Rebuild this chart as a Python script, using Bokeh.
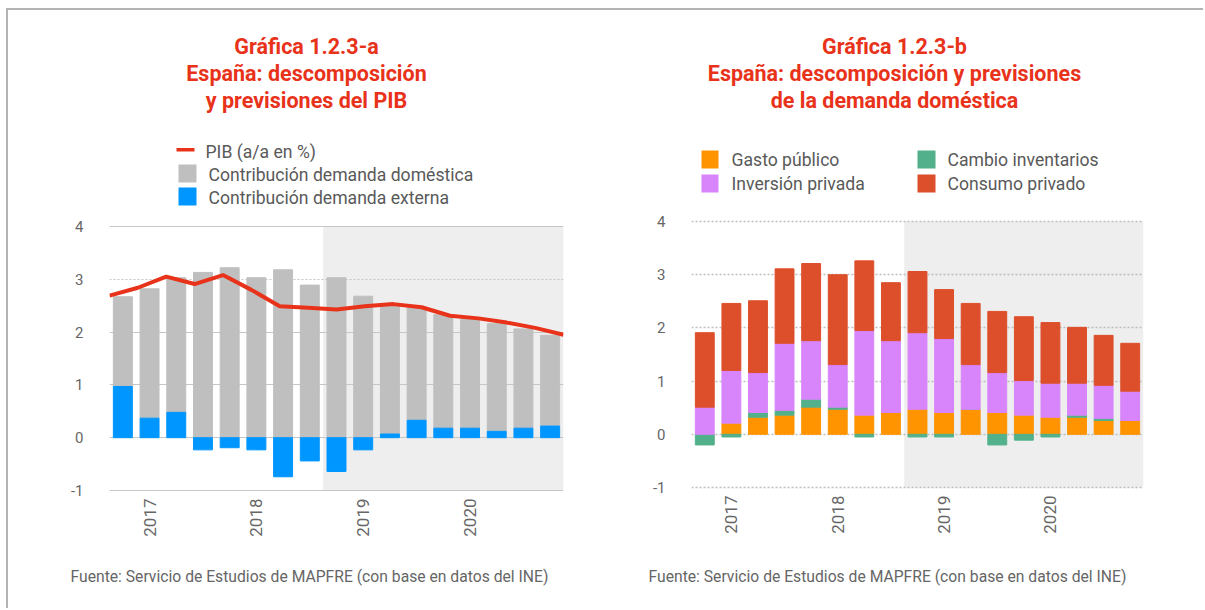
import numpy as np
from bokeh.plotting import figure
from bokeh.models import Range1d, FixedTicker, BoxAnnotation, Label, Grid, Title
from bokeh.layouts import row
from bokeh.embed import file_html
from bokeh.resources import INLINE

# ---------------- data ----------------
quarters = ["4T16", "1T17", "2T17", "3T17", "4T17", "1T18", "2T18", "3T18", "4T18",
            "1T19", "2T19", "3T19", "4T19", "1T20", "2T20", "3T20", "4T20"]
forecast_start = "4T18"

# Chart a
pib = [2.69, 2.84, 3.05, 2.91, 3.08, 2.80, 2.49, 2.46, 2.43, 2.49, 2.53, 2.47, 2.31, 2.26, 2.18, 2.08, 1.95]
dom = [1.70, 2.45, 2.55, 3.13, 3.22, 3.03, 3.18, 2.89, 3.03, 2.68, 2.46, 2.14, 2.15, 2.06, 2.04, 1.88, 1.72]
ext = [0.97, 0.37, 0.48, -0.23, -0.19, -0.23, -0.74, -0.44, -0.64, -0.23, 0.07, 0.33, 0.18, 0.18, 0.12, 0.18, 0.22]

# Chart b
gasto = [0.00, 0.21, 0.32, 0.36, 0.51, 0.47, 0.36, 0.41, 0.47, 0.41, 0.47, 0.41, 0.36, 0.32, 0.32, 0.26, 0.26]
invent = [-0.20, -0.05, 0.09, 0.09, 0.15, 0.04, -0.05, 0.00, -0.05, -0.05, 0.00, -0.20, -0.11, -0.05, 0.04, 0.04, 0.00]
inversion = [0.51, 0.99, 0.75, 1.26, 1.10, 0.80, 1.59, 1.35, 1.44, 1.39, 0.84, 0.75, 0.65, 0.64, 0.60, 0.62, 0.55]
consumo = [1.40, 1.26, 1.35, 1.40, 1.45, 1.69, 1.31, 1.09, 1.15, 0.92, 1.15, 1.15, 1.20, 1.14, 1.05, 0.94, 0.90]

y_ticks = [-1, 0, 1, 2, 3, 4]
y_tick_labels = {-1: "-1", 0: "0", 1: "1", 2: "2", 3: "3", 4: "4"}

title_a = ["Gráfica 1.2.3-a", "España: descomposición", "y previsiones del PIB"]
title_b = ["Gráfica 1.2.3-b", "España: descomposición y previsiones", "de la demanda doméstica"]
legend_a = ["PIB (a/a en %)", "Contribución demanda doméstica", "Contribución demanda externa"]
legend_b = ["Gasto público", "Inversión privada", "Cambio inventarios", "Consumo privado"]
source_txt = "Fuente: Servicio de Estudios de MAPFRE (con base en datos del INE)"

# ---------------- style ----------------
FONT = "Roboto"
TXT = "#666666"
LEG = "#595959"
RED_TITLE = "#e8321a"
C_GRAY = "#bfbfbf"
C_BLUE = "#0096ff"
C_PIB = "#e8321a"
C_ORANGE = "#ff9400"
C_PURPLE = "#d885fb"
C_GREEN = "#52b18a"
C_CONS = "#dd4f2b"
SHADE = "#eeeeee"

n = len(quarters)
xc = np.arange(n) + 0.5
BW = 0.71
year_pos = [i + 0.5 for i, q in enumerate(quarters) if q.startswith("1T")]
year_lab = {i + 0.5: "20" + q[-2:] for i, q in enumerate(quarters) if q.startswith("1T")}
fc = quarters.index(forecast_start)

# page geometry (content origin inside the 2px frame border)
OX, OY = 8, 10
H = 598
FRAME_TOP = 30   # frame extends over titles/legend ...
FRAME_BOT = 566  # ... and down over the year labels; data area is -1..4


def make_fig(width, left0, X0, fw, Y4, Ym1, note_x):
    unit = (Ym1 - Y4) / 5.0
    ytop = 4 + (Y4 - FRAME_TOP) / unit
    ybot = -1 - (FRAME_BOT - Ym1) / unit
    bl = X0 - left0
    bt = FRAME_TOP - OY
    fh = FRAME_BOT - FRAME_TOP
    p = figure(width=width, height=H, x_range=Range1d(0, n), y_range=Range1d(ybot, ytop),
               output_backend="svg", toolbar_location=None,
               min_border_left=bl, min_border_right=width - bl - fw,
               min_border_top=bt, min_border_bottom=H - bt - fh)
    p.outline_line_color = None
    p.background_fill_color = "white"
    p.border_fill_color = "white"
    p.xgrid.grid_line_color = None
    p.yaxis.ticker = FixedTicker(ticks=y_ticks)
    p.yaxis.major_label_overrides = y_tick_labels
    p.yaxis.axis_line_color = None
    p.yaxis.major_tick_line_color = None
    p.yaxis.minor_tick_line_color = None
    p.yaxis.major_tick_out = 0
    p.yaxis.major_tick_in = 0
    p.yaxis.major_label_standoff = 26
    p.yaxis.major_label_text_font = FONT
    p.yaxis.major_label_text_font_size = "15px"
    p.yaxis.major_label_text_color = TXT
    p.xaxis.fixed_location = -1
    p.xaxis.ticker = FixedTicker(ticks=year_pos)
    p.xaxis.major_label_overrides = year_lab
    p.xaxis.major_label_orientation = np.pi / 2
    p.xaxis.axis_line_color = None
    p.xaxis.major_tick_line_color = None
    p.xaxis.minor_tick_line_color = None
    p.xaxis.major_tick_out = 0
    p.xaxis.major_tick_in = 0
    p.xaxis.major_label_standoff = 8
    p.xaxis.major_label_text_font = FONT
    p.xaxis.major_label_text_font_size = "17px"
    p.xaxis.major_label_text_color = TXT
    p.add_layout(BoxAnnotation(left=fc, right=n, bottom=-1, top=4, fill_color=SHADE, fill_alpha=1,
                               line_color=None, level="image"))
    # source note below the frame
    p.add_layout(Title(text=source_txt, align="left", offset=note_x - X0, text_font=FONT,
                       text_font_size="15.7px", text_color=TXT, text_font_style="normal",
                       vertical_align="top", standoff=0), "below")

    def fx(px):
        return (px - X0) / fw * n

    def fy(py):
        return 4 - (py - Y4) / unit
    return p, fx, fy


def txt(p, x, y, s, size, color=TXT, align="left", style="normal"):
    p.add_layout(Label(x=x, y=y, text=s, text_font=FONT, text_font_size=size, text_color=color,
                       text_align=align, text_baseline="middle", text_font_style=style))


def sq(p, fx, fy, x1, x2, y1, y2, color):
    p.add_layout(BoxAnnotation(left=fx(x1), right=fx(x2), top=fy(y1), bottom=fy(y2),
                               fill_color=color, fill_alpha=1, line_color=None, level="overlay"))


# ---------------- chart a ----------------
WA = 600
pa, fxA, fyA = make_fig(WA, OX, 109, 454, 226, 490, 70)
pa.ygrid.ticker = FixedTicker(ticks=[t for t in y_ticks if t != 3])
pa.ygrid.grid_line_color = "#c6c6c6"
pa.ygrid.grid_line_width = 1.2
pa.add_layout(Grid(dimension=1, ticker=FixedTicker(ticks=[3]), grid_line_color="#c6c6c6",
                   grid_line_dash="2 2", grid_line_width=1.2))

ext_a = np.array(ext)
dom_a = np.array(dom)
base = np.maximum(ext_a, 0)
pa.vbar(x=xc, width=BW, bottom=base, top=base + dom_a, color=C_GRAY)
pa.vbar(x=xc, width=BW, bottom=np.minimum(ext_a, 0), top=base, color=C_BLUE)
pa.extra_x_ranges = {"pib": Range1d(0, n - 1)}
pa.line(x=np.arange(n), y=pib, x_range_name="pib", line_color=C_PIB, line_width=4)

for s, yy in zip(title_a, [46, 73, 100]):
    txt(pa, fxA(306), fyA(yy), s, "21.5px", RED_TITLE, "center", "bold")
sq(pa, fxA, fyA, 176, 194, 147.5, 151, C_PIB)
sq(pa, fxA, fyA, 178, 196, 164, 182, C_GRAY)
sq(pa, fxA, fyA, 178, 196, 187, 205, C_BLUE)
txt(pa, fxA(205), fyA(151), legend_a[0], "17.6px", LEG)
txt(pa, fxA(208), fyA(174), legend_a[1], "17.6px", LEG)
txt(pa, fxA(208), fyA(197), legend_a[2], "17.6px", LEG)

# ---------------- chart b ----------------
WB = 595
pb, fxB, fyB = make_fig(WB, OX + WA, 691, 452, 221, 487, 648)
pb.ygrid.ticker = FixedTicker(ticks=y_ticks)
pb.ygrid.grid_line_color = "#bdbdbd"
pb.ygrid.grid_line_dash = "2 2"
pb.ygrid.grid_line_width = 1.5

g = np.array(gasto)
iv = np.array(invent)
inv = np.array(inversion)
cons = np.array(consumo)
ivp = np.maximum(iv, 0)
pb.vbar(x=xc, width=BW, bottom=0, top=g, color=C_ORANGE)
pb.vbar(x=xc, width=BW, bottom=np.where(iv >= 0, g, iv), top=np.where(iv >= 0, g + iv, 0), color=C_GREEN)
pb.vbar(x=xc, width=BW, bottom=g + ivp, top=g + ivp + inv, color=C_PURPLE)
pb.vbar(x=xc, width=BW, bottom=g + ivp + inv, top=g + ivp + inv + cons, color=C_CONS)

for s, yy in zip(title_b, [46, 73, 100]):
    txt(pb, fxB(894), fyB(yy), s, "21.5px", RED_TITLE, "center", "bold")
sq(pb, fxB, fyB, 701, 718, 150, 168, C_ORANGE)
sq(pb, fxB, fyB, 701, 718, 174, 192, C_PURPLE)
sq(pb, fxB, fyB, 917, 935, 150, 168, C_GREEN)
sq(pb, fxB, fyB, 917, 935, 174, 192, C_CONS)
txt(pb, fxB(731), fyB(159), legend_b[0], "17.6px", LEG)
txt(pb, fxB(731), fyB(183), legend_b[1], "17.6px", LEG)
txt(pb, fxB(947), fyB(159), legend_b[2], "17.6px", LEG)
txt(pb, fxB(947), fyB(183), legend_b[3], "17.6px", LEG)

layout = row(pa, pb, spacing=0,
             styles={"border-top": "2px solid #b3b3b3", "border-left": "2px solid #b3b3b3",
                     "margin-left": "6px", "margin-top": "8px"})

open("out.html", "w").write(file_html(layout, INLINE))
